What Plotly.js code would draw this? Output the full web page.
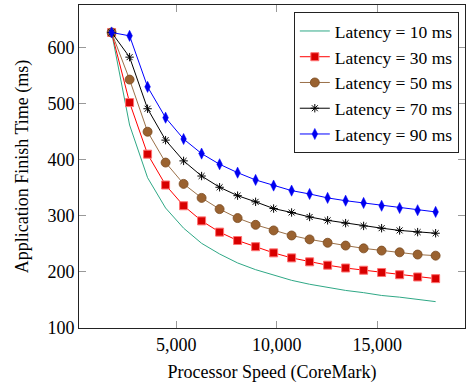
<!DOCTYPE html>
<html>
<head>
<meta charset="utf-8">
<script src="https://cdn.plot.ly/plotly-3.0.1.min.js"></script>
<style>html,body{margin:0;padding:0;background:#fff}#chart{width:466px;height:383px}</style>
</head>
<body>
<div id="chart"></div>
<script>
const speed = [1790, 2685, 3580, 4475, 5370, 6265, 7160, 8055, 8950, 9845, 10740, 11635, 12530, 13425, 14320, 15215, 16110, 17005, 17900];
const lat10 = [627, 462, 368, 314, 278, 251, 232, 216, 204, 194, 185, 178, 172, 167, 163, 158, 155, 151, 147];
const lat30 = [627, 502, 410, 355, 318, 291, 271, 256, 245, 234, 225, 218, 212, 207, 203, 199, 195, 191, 188];
const lat50 = [627, 543, 450, 395, 357, 332, 312, 296, 284, 274, 265, 258, 252, 247, 242, 238, 235, 231, 229];
const lat70 = [627, 583, 491, 435, 398, 371, 351, 336, 325, 313, 306, 298, 292, 287, 282, 278, 274, 271, 269];
const lat90 = [627, 621, 530, 475, 437, 411, 392, 377, 364, 354, 345, 339, 332, 327, 323, 318, 314, 310, 307];
const names = ["Latency = 10 ms", "Latency = 30 ms", "Latency = 50 ms", "Latency = 70 ms", "Latency = 90 ms"];

function f(s) { return {family: '"Liberation Serif", "Times New Roman", serif', size: s || 18, color: "#000"}; }

const traces = [
  {x: speed, y: lat10, name: names[0], mode: "lines", line: {color: "#2fa886", width: 1}},
  {x: speed, y: lat30, name: names[1], mode: "lines+markers", line: {color: "#ff0000", width: 1},
   marker: {symbol: "square", size: 8, color: "#d80000", line: {color: "#ff7070", width: 1}}},
  {x: speed, y: lat50, name: names[2], mode: "lines+markers", line: {color: "#9a7048", width: 1},
   marker: {symbol: "circle", size: 9, color: "#9a6230", line: {color: "#7a4a20", width: 0.8}}},
  {x: speed, y: lat70, name: names[3], mode: "lines+markers", line: {color: "#000000", width: 1},
   marker: {symbol: "asterisk-open", size: 7, color: "#000", line: {color: "#000", width: 1}}},
  {x: speed, y: lat90, name: names[4], mode: "lines+markers", line: {color: "#0000ff", width: 1},
   marker: {symbol: "diamond-tall", size: 8, color: "#0000ee", line: {color: "#0000ff", width: 0.5}}}
];

const layout = {
  width: 466, height: 383,
  margin: {l: 79, r: 1, t: 5, b: 55},
  paper_bgcolor: "#fff", plot_bgcolor: "#fff",
  font: f(),
  showlegend: true,
  legend: {x: 0.984, xanchor: "right", y: 0.978, yanchor: "top",
           bgcolor: "#fff", bordercolor: "#222", borderwidth: 1,
           font: f(17.5), tracegroupgap: 0},
  xaxis: {
    range: [170, 19360], tickvals: [5000, 10000, 15000], tickformat: ",",
    showgrid: false, zeroline: false,
    showline: true, linecolor: "#222", linewidth: 1, mirror: "ticks",
    ticks: "inside", ticklen: 7, tickcolor: "#999", tickwidth: 1,
    tickfont: f(),
    title: {text: "Processor Speed (CoreMark)", font: f(), standoff: 12}
  },
  yaxis: {
    range: [100, 676], tickvals: [100, 200, 300, 400, 500, 600],
    showgrid: false, zeroline: false,
    showline: true, linecolor: "#222", linewidth: 1, mirror: "ticks",
    ticks: "inside", ticklen: 7, tickcolor: "#999", tickwidth: 1,
    tickfont: f(),
    title: {text: "Application Finish Time (ms)", font: f(), standoff: 14}
  }
};

Plotly.newPlot("chart", traces, layout, {displayModeBar: false, staticPlot: true});
</script>
</body>
</html>
